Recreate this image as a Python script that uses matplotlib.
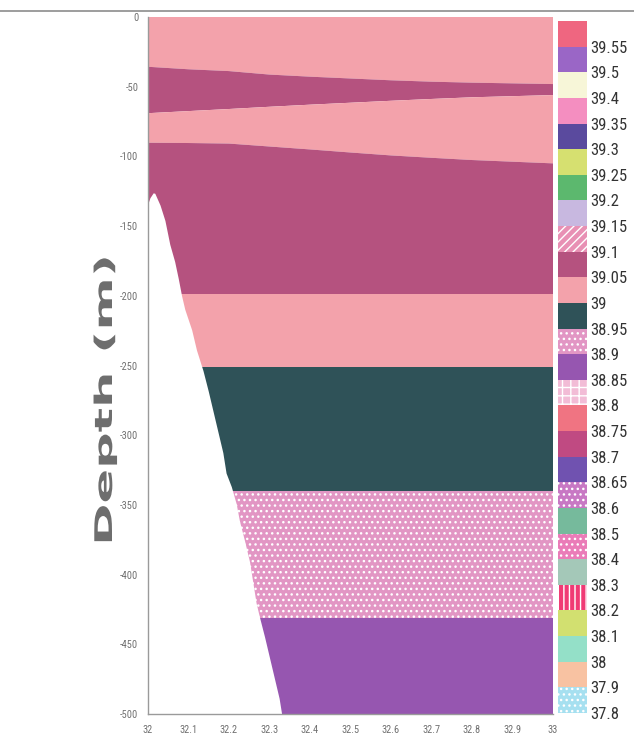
import matplotlib.pyplot as plt
import matplotlib.patheffects as patheffects
from matplotlib.lines import Line2D
from matplotlib.transforms import Affine2D

plt.rcParams["axes.unicode_minus"] = False

# Section longitudes where the layer interfaces were picked
lon = [32.0, 32.1, 32.2, 32.3, 32.4, 32.5, 32.6, 32.7, 32.8, 32.9, 33.0]

# Interface depths (m), top to bottom
surface = [0.0] * 11
wedge_top = [-35.7, -37.5, -38.8, -41.3, -42.8, -44.1, -45.4, -46.4, -47.1, -47.6, -48.1]
wedge_bottom = [-69.0, -67.5, -66.0, -64.4, -62.9, -61.5, -60.1, -58.8, -57.6, -56.8, -56.0]
core_top = [-90.2, -90.4, -90.8, -92.9, -95.0, -97.2, -99.3, -101.0, -102.6, -103.8, -105.0]
core_bottom = [-199.0] * 11
deep_top = [-251.0] * 11
deep_mid = [-340.0] * 11
deep_low = [-431.0] * 11
bottom = [-500.0] * 11

interfaces = [surface, wedge_top, wedge_bottom, core_top, core_bottom,
              deep_top, deep_mid, deep_low, bottom]
layer_values = ["39", "39.05", "39", "39.05", "39", "38.95", "38.9", "38.85"]

# Shelf slope (lon, depth) along the western edge
slope_lon = [32.0, 32.006, 32.014, 32.018, 32.031, 32.043, 32.055, 32.067, 32.076,
             32.084, 32.092, 32.109, 32.121, 32.137, 32.150, 32.162, 32.174, 32.186,
             32.194, 32.207, 32.219, 32.227, 32.240, 32.252, 32.260, 32.268, 32.276,
             32.289, 32.301, 32.313, 32.325, 32.331]
slope_depth = [-135.0, -130.0, -126.5, -126.8, -135.3, -146.3, -163.4, -175.7, -188.0,
               -200.1, -210.0, -224.7, -239.3, -254.0, -268.7, -283.4, -298.1, -312.8,
               -327.5, -337.3, -349.5, -361.8, -376.5, -391.2, -405.8, -420.5, -430.3,
               -445.0, -459.7, -474.4, -489.1, -500.0]

# Colour scale, top to bottom
scale_labels = ["39.55", "39.5", "39.4", "39.35", "39.3", "39.25", "39.2", "39.15", "39.1",
                "39.05", "39", "38.95", "38.9", "38.85", "38.8", "38.75", "38.7", "38.65",
                "38.6", "38.5", "38.4", "38.3", "38.2", "38.1", "38", "37.9", "37.8"]
scale_colors = ["#ef6680", "#9a66c6", "#f7f6d8", "#f48ec0", "#5a4a9e", "#d6e070", "#5cb86e",
                "#c8b8e0", "#e890b4", "#b5527f", "#f3a2ab", "#2f5258", "#e296c4", "#9656b0",
                "#f2bcd6", "#f07482", "#c04a82", "#7052b0", "#c878c4", "#76ba9c", "#ea7cb8",
                "#a4c8b8", "#f03a74", "#d2e070", "#94e0c8", "#f8c2a2", "#a6e0f0"]
scale_hatches = ["", "", "", "", "", "", "", "", "////",
                 "", "", "", "...", "", "++", "", "", "",
                 "...", "", "...", "", "|||", "", "", "", "..."]

NARROW = ["Roboto Condensed", "DejaVu Sans"]


class Stretch(patheffects.AbstractPathEffect):
    """Widen glyph outlines along the reading direction about their centre."""

    def __init__(self, sx):
        super().__init__()
        self._sx = sx

    def draw_path(self, renderer, gc, tpath, affine, rgbFace=None):
        ext = tpath.get_extents()
        cx = 0.5 * (ext.x0 + ext.x1)
        widen = Affine2D().translate(-cx, 0).scale(self._sx, 1).translate(cx, 0)
        renderer.draw_path(gc, tpath, widen + affine, rgbFace)


def main():
    fig = plt.figure(figsize=(6.34, 7.46), dpi=100)
    ax = fig.add_axes([148 / 634, 32 / 746, 405 / 634, 697 / 746])

    color_of = dict(zip(scale_labels, scale_colors))
    hatch_of = dict(zip(scale_labels, scale_hatches))

    for upper, lower, value in zip(interfaces[:-1], interfaces[1:], layer_values):
        ax.fill_between(lon, upper, lower, facecolor=color_of[value], linewidth=0)
        if hatch_of[value]:
            ax.fill_between(lon, upper, lower, facecolor="none", edgecolor="white",
                            hatch=hatch_of[value], linewidth=0)

    ax.fill_betweenx(slope_depth, 32.0, slope_lon, facecolor="white", linewidth=0)

    ax.set_xlim(32.0, 33.0)
    ax.set_ylim(-500, 0)
    ax.set_xticks([32.0, 32.1, 32.2, 32.3, 32.4, 32.5, 32.6, 32.7, 32.8, 32.9, 33.0])
    ax.set_xticklabels(["32", "32.1", "32.2", "32.3", "32.4", "32.5", "32.6",
                        "32.7", "32.8", "32.9", "33"])
    ax.set_yticks(range(-500, 1, 50))
    ax.tick_params(length=0, labelsize=7.5, labelcolor="#707070")
    ax.tick_params(axis="y", pad=7)
    ax.tick_params(axis="x", pad=8)
    for lab in ax.get_xticklabels() + ax.get_yticklabels():
        lab.set_family(NARROW)
    for side in ["top", "right"]:
        ax.spines[side].set_visible(False)
    for side in ["left", "bottom"]:
        ax.spines[side].set_color("#9a9a9a")
        ax.spines[side].set_linewidth(1.0)

    fig.text(105 / 634, 1 - 400 / 746, "Depth (m)", rotation=90, ha="center", va="center",
             fontsize=17.5, fontweight="bold", color="#6e6e6e", path_effects=[Stretch(2.1)])

    # colour scale
    cax = fig.add_axes([558 / 634, 33 / 746, 29 / 634, 692 / 746])
    n = len(scale_labels)
    bars = cax.bar([0.5] * n, [1] * n, bottom=[n - 1 - i for i in range(n)], width=1.0,
                   color=scale_colors, linewidth=0)
    for patch, h in zip(bars.patches, scale_hatches):
        if h:
            patch.set_hatch(h)
            patch.set_edgecolor("white")
    cax.set_xlim(0, 1)
    cax.set_ylim(0, n)
    cax.set_xticks([])
    cax.yaxis.tick_right()
    cax.set_yticks([n - 1 - i for i in range(n)])
    cax.set_yticklabels(scale_labels, family=NARROW)
    cax.tick_params(length=0, labelsize=12, labelcolor="#333333", pad=2)
    for s in cax.spines.values():
        s.set_visible(False)

    fig.add_artist(Line2D([0.0, 1.0], [1 - 11 / 746] * 2, color="#8c8c8c", linewidth=1.2))

    fig.savefig("out.png", dpi=100)
    plt.close(fig)


if __name__ == "__main__":
    main()
